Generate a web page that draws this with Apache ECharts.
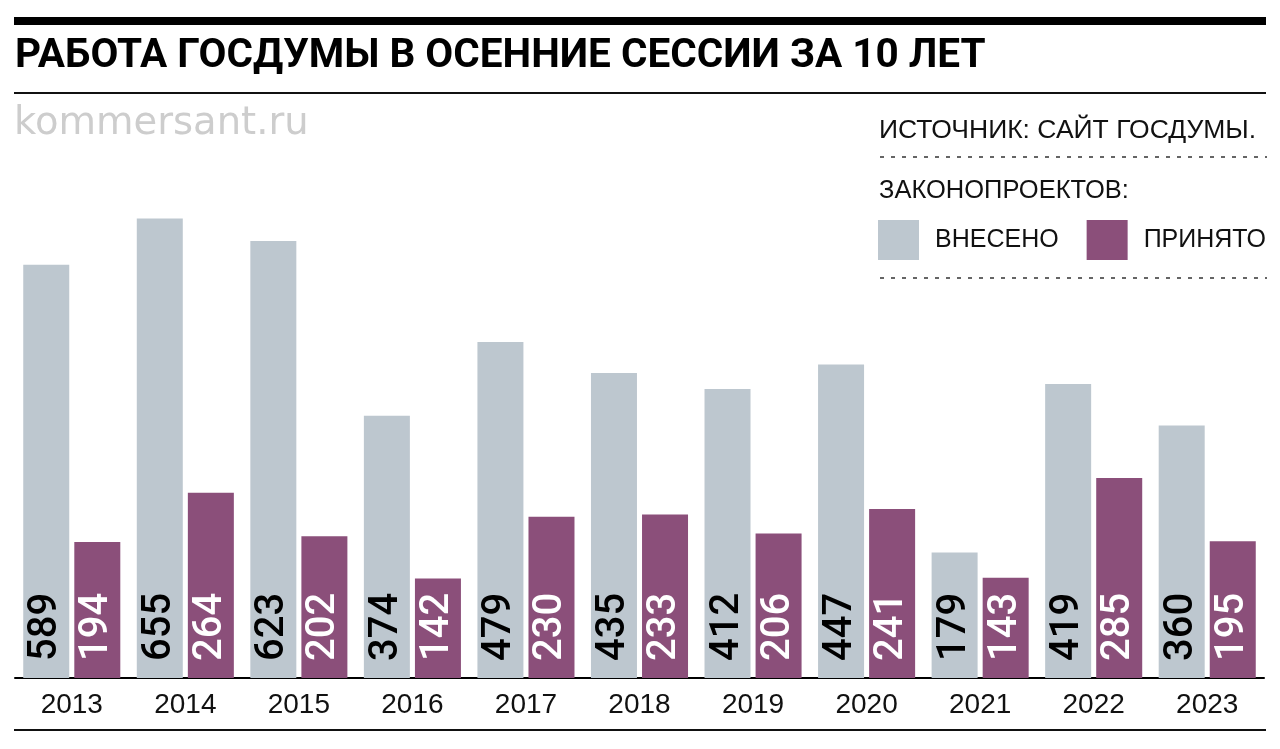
<!DOCTYPE html>
<html>
<head>
<meta charset="utf-8">
<script src="https://cdn.jsdelivr.net/npm/echarts@6/dist/echarts.min.js"></script>
<style>
html,body{margin:0;padding:0;background:#fff;}
#chart{width:1280px;height:749px;}
</style>
</head>
<body>
<div id="chart"></div>
<script>
var years = ['2013','2014','2015','2016','2017','2018','2019','2020','2021','2022','2023'];
var introduced = [589,655,623,374,479,435,412,447,179,419,360];
var adopted = [194,264,202,142,230,233,206,241,143,285,195];
var seriesNames = ['ВНЕСЕНО','ПРИНЯТО'];
var titleText = 'РАБОТА ГОСДУМЫ В ОСЕННИЕ СЕССИИ ЗА 10 ЛЕТ';
var sourceText = 'ИСТОЧНИК: САЙТ ГОСДУМЫ.';
var legendHeader = 'ЗАКОНОПРОЕКТОВ:';
var watermark = 'kommersant.ru';

var GREY = '#bdc7cf';
var PURPLE = '#8b4f7a';
var chart = echarts.init(document.getElementById('chart'), null, {renderer:'canvas'});

function barLabel(color){
  return {
    show:true, position:'insideBottom', rotate:90, align:'left', verticalAlign:'middle',
    distance:17, color:color, fontSize:40, fontWeight:500, fontFamily:'Roboto'
  };
}

var option = {
  backgroundColor:'#fff',
  animation:false,
  grid:{left:15, right:16, top:187, bottom:71, containLabel:false},
  legend:{
    left:878, top:220, padding:0, orient:'horizontal', icon:'rect', itemWidth:41, itemHeight:40, itemGap:28,
    selectedMode:false, data:seriesNames,
    textStyle:{fontSize:25, fontFamily:'Liberation Sans', color:'#111', padding:[0,0,0,11]}
  },
  xAxis:{
    type:'category', data:years,
    axisLine:{show:true, lineStyle:{color:'#000', width:2}},
    axisTick:{show:false},
    axisLabel:{fontSize:28, fontFamily:'Liberation Sans', color:'#111', margin:13}
  },
  yAxis:{type:'value', min:0, max:700, show:false, splitLine:{show:false}},
  series:[
    {name:seriesNames[0], type:'bar', data:introduced, barWidth:46, barGap:'11%',
     itemStyle:{color:GREY}, label:barLabel('#000')},
    {name:seriesNames[1], type:'bar', data:adopted, barWidth:46, barGap:'11%',
     itemStyle:{color:PURPLE}, label:barLabel('#fff')}
  ],
  graphic:[
    {type:'rect', shape:{x:14, y:17, width:1252, height:8}, style:{fill:'#000'}},
    {type:'text', style:{x:15, y:57, text:titleText, font:'bold 40.5px Roboto', fill:'#000', verticalAlign:'middle'}},
    {type:'rect', shape:{x:14, y:92, width:1252, height:2}, style:{fill:'#111'}},
    {type:'text', style:{x:14, y:124, text:watermark, font:'38.5px "DejaVu Sans"', fill:'#cdcdcd', verticalAlign:'middle'}},
    {type:'text', style:{x:879, y:131, text:sourceText, font:'26.5px "Liberation Sans"', fill:'#111', verticalAlign:'middle'}},
    {type:'line', shape:{x1:880, y1:157, x2:1267, y2:157}, style:{stroke:'#333', lineWidth:1.6, lineDash:[4,7]}},
    {type:'text', style:{x:879, y:191, text:legendHeader, font:'25.5px "Liberation Sans"', fill:'#111', verticalAlign:'middle'}},
    {type:'line', shape:{x1:880, y1:278, x2:1267, y2:278}, style:{stroke:'#333', lineWidth:1.6, lineDash:[4,7]}},
    {type:'rect', shape:{x:14, y:729, width:1252, height:2}, style:{fill:'#111'}}
  ]
};
chart.setOption(option);
</script>
</body>
</html>
